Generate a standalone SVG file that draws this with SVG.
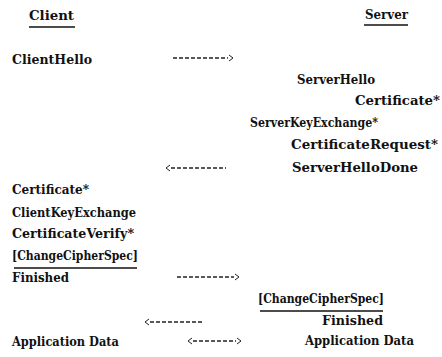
<svg xmlns="http://www.w3.org/2000/svg" width="442" height="357" viewBox="0 0 442 357">
<style>
text{font-family:"DejaVu Serif","Liberation Serif",serif;font-weight:bold;font-size:12px;fill:#111}
.ul{stroke:#111;stroke-width:1.3}
.dash{stroke:#222;stroke-width:1.3;stroke-dasharray:4 2;fill:none}
.chev{stroke:#222;stroke-width:1;fill:none}
</style>
<rect width="442" height="357" fill="#fff"/>
<g id="client-header"><text x="29" y="20" textLength="45" lengthAdjust="spacingAndGlyphs">Client</text><line class="ul" x1="29" y1="27" x2="75" y2="27"/></g>
<g id="server-header"><text x="365" y="19" textLength="43" lengthAdjust="spacingAndGlyphs">Server</text><line class="ul" x1="364" y1="25" x2="408" y2="25"/></g>
<g id="client-hello"><text x="12" y="64" textLength="80" lengthAdjust="spacingAndGlyphs">ClientHello</text></g>
<g id="server-hello"><text x="297" y="84" textLength="78" lengthAdjust="spacingAndGlyphs">ServerHello</text></g>
<g id="server-certificate"><text x="355" y="105" textLength="85" lengthAdjust="spacingAndGlyphs">Certificate*</text></g>
<g id="server-key-exchange"><text x="250" y="127" textLength="128" lengthAdjust="spacingAndGlyphs">ServerKeyExchange*</text></g>
<g id="certificate-request"><text x="291" y="149" textLength="147" lengthAdjust="spacingAndGlyphs">CertificateRequest*</text></g>
<g id="server-hello-done"><text x="292" y="172" textLength="126" lengthAdjust="spacingAndGlyphs">ServerHelloDone</text></g>
<g id="client-certificate"><text x="12" y="194" textLength="77" lengthAdjust="spacingAndGlyphs">Certificate*</text></g>
<g id="client-key-exchange"><text x="12" y="217" textLength="124" lengthAdjust="spacingAndGlyphs">ClientKeyExchange</text></g>
<g id="certificate-verify"><text x="12" y="238" textLength="122" lengthAdjust="spacingAndGlyphs">CertificateVerify*</text></g>
<g id="client-ccs"><text x="12" y="260" textLength="126" lengthAdjust="spacingAndGlyphs">[ChangeCipherSpec]</text><line class="ul" x1="14" y1="268" x2="137" y2="268"/></g>
<g id="client-finished"><text x="12" y="282" textLength="57" lengthAdjust="spacingAndGlyphs">Finished</text></g>
<g id="server-ccs"><text x="258" y="303" textLength="126" lengthAdjust="spacingAndGlyphs">[ChangeCipherSpec]</text><line class="ul" x1="260" y1="311" x2="383" y2="311"/></g>
<g id="server-finished"><text x="322" y="325" textLength="61" lengthAdjust="spacingAndGlyphs">Finished</text></g>
<g id="client-app-data"><text x="12" y="346" textLength="107" lengthAdjust="spacingAndGlyphs">Application Data</text></g>
<g id="server-app-data"><text x="305" y="345" textLength="109" lengthAdjust="spacingAndGlyphs">Application Data</text></g>
<g id="connectors">
<line class="dash" x1="173" y1="58" x2="228" y2="58"/><polyline class="chev" points="229,55 233,58 229,61"/>
<line class="dash" x1="171" y1="168" x2="226" y2="168"/><polyline class="chev" points="170,165 166,168 170,171"/>
<line class="dash" x1="177" y1="277" x2="234" y2="277"/><polyline class="chev" points="235,274 239,277 235,280"/>
<line class="dash" x1="150" y1="322" x2="204" y2="322"/><polyline class="chev" points="149,319 145,322 149,325"/>
<line class="dash" x1="193" y1="341" x2="236" y2="341"/><polyline class="chev" points="192,338 188,341 192,344"/><polyline class="chev" points="237,338 241,341 237,344"/>
</g>
</svg>
